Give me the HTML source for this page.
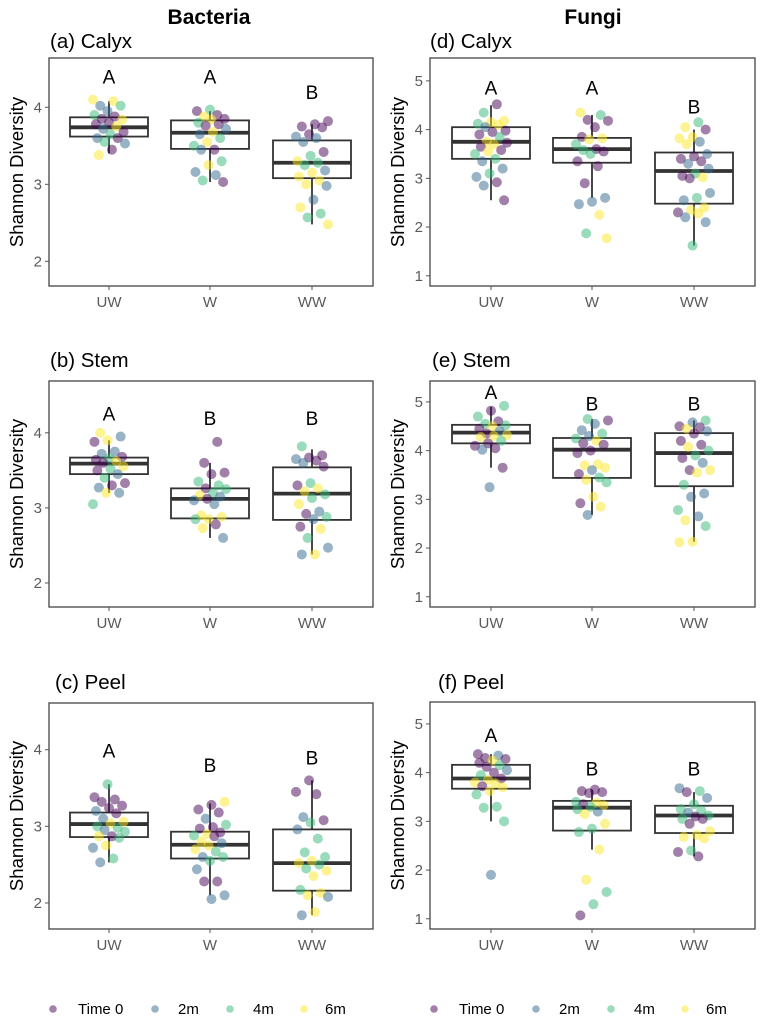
<!DOCTYPE html>
<html><head><meta charset="utf-8"><style>
body{margin:0;background:#fff}
svg{display:block;font-family:"Liberation Sans",sans-serif}
</style></head><body>
<svg id="chart" width="762" height="1021" viewBox="0 0 762 1021">
<text x="209" y="24" text-anchor="middle" font-weight="bold" font-size="21">Bacteria</text>
<text x="593" y="24" text-anchor="middle" font-weight="bold" font-size="21">Fungi</text>
</svg>
<script>
const categories = ["UW","W","WW"];
const colors = ["#440154","#31688e","#35b779","#fde725"];
const legendLabels = ["Time 0","2m","4m","6m"];
const bactTicks = [2,3,4];
const fungiTicks = [1,2,3,4,5];
const panelTitles = ["(a) Calyx","(b) Stem","(c) Peel","(d) Calyx","(e) Stem","(f) Peel"];
const letters = [["A","A","B"],["A","B","B"],["A","B","B"],["A","A","B"],["A","B","B"],["A","B","B"]];
const letterVals = [[4.4,4.4,4.2],[4.26,4.2,4.2],[3.99,3.8,3.9],[4.86,4.86,4.47],[5.2,4.97,4.97],[4.77,4.08,4.08]];
// box stats: [whiskerLow, q1, median, q3, whiskerHigh]
const boxA = [[3.40,3.62,3.74,3.87,4.08],[3.03,3.46,3.67,3.83,3.95],[2.48,3.08,3.28,3.57,3.78]];
const boxB = [[3.20,3.45,3.59,3.67,3.90],[2.60,2.86,3.12,3.26,3.60],[2.38,2.84,3.19,3.54,3.78]];
const boxC = [[2.53,2.86,3.03,3.18,3.55],[2.10,2.58,2.76,2.93,3.30],[1.84,2.16,2.52,2.96,3.60]];
const boxD = [[2.55,3.40,3.75,4.05,4.50],[2.60,3.32,3.60,3.83,4.30],[1.62,2.48,3.15,3.53,4.00]];
const boxE = [[3.65,4.15,4.37,4.53,4.90],[2.68,3.44,4.02,4.26,4.65],[2.13,3.27,3.95,4.36,4.62]];
const boxF = [[3.00,3.67,3.88,4.16,4.38],[2.42,2.81,3.28,3.42,3.65],[2.28,2.76,3.12,3.32,3.60]];
// points "value:colorIndex"
const ptsA = ["4.1:3 4.08:3 4.02:1 4.02:2 3.95:1 3.9:2 3.88:0 3.85:0 3.84:3 3.8:0 3.78:0 3.75:3 3.72:1 3.68:0 3.65:2 3.6:1 3.6:0 3.55:2 3.53:1 3.45:0 3.38:3",
"3.97:2 3.95:0 3.9:0 3.88:3 3.85:0 3.84:3 3.8:2 3.78:0 3.76:0 3.72:1 3.68:3 3.65:1 3.6:2 3.55:3 3.5:2 3.45:0 3.45:1 3.3:2 3.25:3 3.16:1 3.12:1 3.05:2 3.03:0",
"3.82:0 3.78:0 3.75:0 3.74:0 3.65:0 3.62:1 3.6:1 3.55:1 3.42:0 3.37:2 3.3:3 3.28:2 3.25:2 3.18:1 3.15:3 3.1:3 3.05:3 3.0:3 2.98:1 2.8:1 2.7:3 2.62:2 2.57:2 2.48:3"];
const ptsB = ["4.0:3 3.95:1 3.9:3 3.88:0 3.75:1 3.72:1 3.68:0 3.66:2 3.64:0 3.62:3 3.6:0 3.55:3 3.52:2 3.5:0 3.45:1 3.4:2 3.33:0 3.3:0 3.27:1 3.2:1 3.2:3 3.05:2",
"3.88:0 3.6:0 3.47:0 3.45:0 3.35:2 3.3:2 3.26:0 3.25:2 3.2:2 3.17:3 3.15:1 3.12:0 3.1:1 3.05:1 2.9:3 2.88:3 2.85:3 2.85:2 2.78:0 2.73:3 2.6:1",
"3.82:2 3.7:0 3.67:0 3.65:1 3.63:0 3.6:1 3.55:0 3.33:2 3.3:0 3.26:3 3.22:3 3.18:2 3.13:2 3.05:3 2.95:1 2.92:0 2.88:2 2.85:1 2.75:0 2.72:3 2.6:2 2.47:1 2.38:3 2.38:1"];
const ptsC = ["3.55:2 3.38:0 3.35:0 3.32:0 3.27:0 3.24:0 3.2:1 3.17:0 3.1:1 3.06:3 3.04:3 3.0:2 2.98:2 2.95:1 2.93:2 2.87:0 2.87:3 2.85:2 2.75:3 2.72:1 2.58:2 2.53:1",
"3.32:3 3.28:0 3.22:0 3.18:0 3.1:1 3.02:2 2.99:0 2.97:0 2.92:0 2.9:3 2.88:2 2.87:0 2.8:3 2.78:1 2.75:3 2.7:3 2.67:2 2.6:1 2.6:2 2.55:2 2.44:1 2.28:0 2.28:0 2.1:1 2.05:1",
"3.6:0 3.45:0 3.42:0 3.12:1 3.08:0 3.05:2 2.96:1 2.84:2 2.66:2 2.6:2 2.55:3 2.52:3 2.5:2 2.45:2 2.42:3 2.35:3 2.17:2 2.13:3 2.1:3 2.08:1 1.88:3 1.84:1"];
const ptsD = ["4.52:0 4.35:2 4.18:3 4.15:3 4.12:2 4.1:3 4.05:1 3.98:0 3.95:0 3.9:0 3.85:2 3.75:3 3.73:0 3.7:3 3.65:0 3.58:0 3.55:3 3.5:2 3.4:2 3.35:1 3.2:1 3.1:2 3.03:1 2.92:0 2.85:1 2.55:0",
"4.35:3 4.3:2 4.2:0 4.18:0 4.05:0 3.85:0 3.82:3 3.8:3 3.7:2 3.6:0 3.58:2 3.55:0 3.5:2 3.35:0 3.25:0 2.9:0 2.6:1 2.52:1 2.47:1 2.25:3 1.87:2 1.77:3",
"4.15:2 4.05:3 4.0:0 3.85:3 3.82:3 3.75:1 3.7:3 3.5:1 3.45:0 3.4:0 3.35:0 3.3:1 3.2:1 3.1:2 3.05:0 3.02:3 3.0:0 2.7:1 2.6:2 2.55:1 2.4:3 2.35:3 2.3:0 2.28:3 2.2:1 2.1:1 1.62:2"];
const ptsE = ["4.92:2 4.82:0 4.7:2 4.6:0 4.55:2 4.52:2 4.5:3 4.45:0 4.4:1 4.35:0 4.32:3 4.3:3 4.28:3 4.2:2 4.15:0 4.1:0 4.05:0 4.02:1 3.65:0 3.25:1",
"4.65:2 4.62:0 4.55:1 4.42:1 4.35:2 4.3:1 4.25:2 4.2:3 4.15:0 4.12:0 4.0:0 3.95:0 3.72:3 3.7:3 3.65:3 3.6:1 3.52:0 3.45:2 3.4:3 3.35:2 3.05:3 2.92:0 2.85:3 2.68:1",
"4.62:2 4.58:1 4.5:0 4.48:0 4.45:3 4.4:1 4.35:0 4.2:0 4.12:0 4.08:3 4.0:2 3.9:2 3.85:0 3.75:1 3.6:0 3.6:3 3.55:3 3.3:2 3.12:1 3.05:1 2.78:2 2.65:1 2.57:3 2.45:2 2.13:3 2.12:3"];
const ptsF = ["4.38:0 4.35:1 4.3:0 4.28:0 4.25:3 4.2:0 4.15:2 4.12:0 4.05:1 4.0:0 3.95:2 3.88:0 3.85:3 3.8:3 3.78:3 3.72:0 3.7:3 3.62:3 3.55:2 3.3:2 3.28:2 3.0:2 1.9:1",
"3.65:0 3.62:0 3.6:0 3.58:0 3.4:2 3.38:3 3.35:0 3.33:3 3.3:2 3.25:2 3.2:1 3.15:3 2.95:3 2.85:2 2.78:2 2.42:3 1.8:3 1.55:2 1.3:2 1.07:0",
"3.68:1 3.62:2 3.6:0 3.48:1 3.35:2 3.25:2 3.22:2 3.18:1 3.12:2 3.1:0 3.05:2 3.05:0 2.95:0 2.8:3 2.72:3 2.68:3 2.65:3 2.4:2 2.37:0 2.28:0"];

const NS="http://www.w3.org/2000/svg";
const svg=document.getElementById('chart');
function mk(tag,attrs,parent,text){const e=document.createElementNS(NS,tag);for(const k in attrs)e.setAttribute(k,attrs[k]);if(text!==undefined)e.textContent=text;(parent||svg).appendChild(e);return e;}

const panels=[
 {box:boxA,pts:ptsA,ticks:bactTicks,x0:49,x1:373,top:58,bot:286,vTop:4.64,vBot:1.68,cx:[109,210,312],tx:50,ty:48,ax:17},
 {box:boxB,pts:ptsB,ticks:bactTicks,x0:49,x1:373,top:381,bot:607,vTop:4.69,vBot:1.68,cx:[109,210,312],tx:50,ty:367,ax:17},
 {box:boxC,pts:ptsC,ticks:bactTicks,x0:49,x1:373,top:703,bot:929,vTop:4.61,vBot:1.66,cx:[109,210,312],tx:55,ty:689,ax:17},
 {box:boxD,pts:ptsD,ticks:fungiTicks,x0:430,x1:755,top:58,bot:286,vTop:5.47,vBot:0.79,cx:[491,592,694],tx:430,ty:48,ax:398},
 {box:boxE,pts:ptsE,ticks:fungiTicks,x0:430,x1:755,top:381,bot:607,vTop:5.43,vBot:0.79,cx:[491,592,694],tx:432,ty:367,ax:398},
 {box:boxF,pts:ptsF,ticks:fungiTicks,x0:430,x1:755,top:702,bot:929,vTop:5.45,vBot:0.79,cx:[491,592,694],tx:438,ty:689,ax:398}
];
const names=["bacteria-calyx","bacteria-stem","bacteria-peel","fungi-calyx","fungi-stem","fungi-peel"];

panels.forEach((p,pi)=>{
 const g=mk('g',{});
 
 
 const y=v=>p.top+(p.vTop-v)/(p.vTop-p.vBot)*(p.bot-p.top);
 const t=mk('text',{x:p.tx,y:p.ty,'font-size':20.5},g,panelTitles[pi]);
 
 
 const fr=mk('rect',{x:p.x0,y:p.top,width:p.x1-p.x0,height:p.bot-p.top,fill:'#fff',stroke:'#444','stroke-width':1.3},g);
 
 
 p.ticks.forEach(tv=>{
  const yy=y(tv);
  mk('line',{x1:p.x0-4,x2:p.x0,y1:yy,y2:yy,stroke:'#555'},g);
  const tl=mk('text',{x:p.x0-7,y:yy+5,'text-anchor':'end','font-size':15,fill:'#5a5a5a'},g,tv);
  
  
 });
 const at=mk('text',{x:p.ax,y:(p.top+p.bot)/2,'text-anchor':'middle','font-size':18.5,transform:`rotate(-90 ${p.ax} ${(p.top+p.bot)/2})`,dy:6},g,'Shannon Diversity');
 
 
 categories.forEach((c,ci)=>{
  const cx=p.cx[ci];
  mk('line',{x1:cx,x2:cx,y1:p.bot,y2:p.bot+4,stroke:'#555'},g);
  const xl=mk('text',{x:cx,y:p.bot+21,'text-anchor':'middle','font-size':15,fill:'#5a5a5a'},g,c);
  
  
  const b=p.box[ci];
  const bg=mk('g',{},g);
  
  
  mk('line',{x1:cx,x2:cx,y1:y(b[0]),y2:y(b[1]),stroke:'#333','stroke-width':1.8},bg);
  mk('line',{x1:cx,x2:cx,y1:y(b[3]),y2:y(b[4]),stroke:'#333','stroke-width':1.8},bg);
  mk('rect',{x:cx-39,y:y(b[3]),width:78,height:y(b[1])-y(b[3]),fill:'#fff',stroke:'#333','stroke-width':1.8},bg);
  mk('line',{x1:cx-39,x2:cx+39,y1:y(b[2]),y2:y(b[2]),stroke:'#333','stroke-width':3.8},bg);
  p.pts[ci].split(' ').forEach((s,i)=>{
   const [v,k]=s.split(':');
   const jx=(((i*37+ci*11+pi*5)%23)-11)/11*16;
   const d=mk('circle',{cx:cx+jx,cy:y(+v),r:5,fill:colors[+k],'fill-opacity':0.5},g);
   
   
  });
  const L=mk('text',{x:cx,y:y(letterVals[pi][ci])+7,'text-anchor':'middle','font-size':19},g,letters[pi][ci]);
  
  
 });
});

[[53,78],[434,459]].forEach((st,li)=>{
 const lg=mk('g',{});
 
 
 const dx=[0,102,177,251];
 const tx=[0,100,175,247];
 legendLabels.forEach((lab,i)=>{
  const e=mk('g',{},lg);
  
  
  mk('circle',{cx:st[0]+dx[i],cy:1009,r:3.8,fill:colors[i],'fill-opacity':0.5},e);
  mk('text',{x:st[1]+tx[i],y:1014,'font-size':15},e,lab);
 });
});
</script>
</body></html>
